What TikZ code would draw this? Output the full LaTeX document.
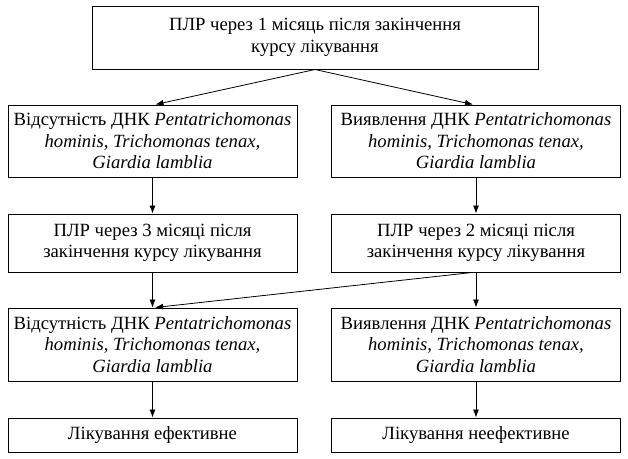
\documentclass[tikz,border=0pt]{standalone}
\usepackage{fontspec}
\setmainfont{Liberation Serif}
\usetikzlibrary{arrows.meta}
\begin{document}
\begin{tikzpicture}[x=0.75pt,y=-0.75pt,
  box/.style={draw=black,line width=0.75pt,inner sep=0pt,align=center,
    font=\fontsize{14pt}{16.2pt}\selectfont},
  col/.style={box,minimum width=216.75pt},
  arr/.style={line width=0.6pt,-{Latex[length=6pt,width=4.5pt]}}]
\useasboundingbox (0,0) rectangle (628,458);
\node[box,minimum width=334.5pt,minimum height=47.25pt] (top) at (315,37.5)
  {ПЛР через 1 місяць після закінчення\\курсу лікування};
\node[col,minimum height=54pt] (l2) at (152.5,141)
  {Відсутність ДНК \textit{Pentatrichomonas}\\\textit{hominis, Trichomonas tenax,}\\\textit{Giardia lamblia}};
\node[col,minimum height=54pt] (r2) at (476,141)
  {Виявлення ДНК \textit{Pentatrichomonas}\\\textit{hominis, Trichomonas tenax,}\\\textit{Giardia lamblia}};
\node[col,minimum height=43.5pt] (l3) at (152.5,243)
  {ПЛР через 3 місяці після\\закінчення курсу лікування};
\node[col,minimum height=43.5pt] (r3) at (476,243)
  {ПЛР через 2 місяці після\\закінчення курсу лікування};
\node[col,minimum height=54.75pt] (l4) at (152.5,344.5)
  {Відсутність ДНК \textit{Pentatrichomonas}\\\textit{hominis, Trichomonas tenax,}\\\textit{Giardia lamblia}};
\node[col,minimum height=54.75pt] (r4) at (476,344.5)
  {Виявлення ДНК \textit{Pentatrichomonas}\\\textit{hominis, Trichomonas tenax,}\\\textit{Giardia lamblia}};
\node[col,minimum height=25.5pt] (l5) at (152.5,435)
  {Лікування ефективне};
\node[col,minimum height=25.5pt] (r5) at (476,435)
  {Лікування неефективне};
\draw[arr] (top.south) -- ([xshift=2.25pt]l2.north);
\draw[arr] (top.south) -- ([xshift=-2.25pt]r2.north);
\draw[arr] (l2.south) -- (l3.north);
\draw[arr] (r2.south) -- (r3.north);
\draw[arr] (l3.south) -- (l4.north);
\draw[arr] (r3.south) -- (r4.north);
\draw[arr] ([xshift=-3pt]r3.south) -- ([xshift=2pt]l4.north);
\draw[arr] (l4.south) -- (l5.north);
\draw[arr] (r4.south) -- (r5.north);
\end{tikzpicture}
\end{document}
